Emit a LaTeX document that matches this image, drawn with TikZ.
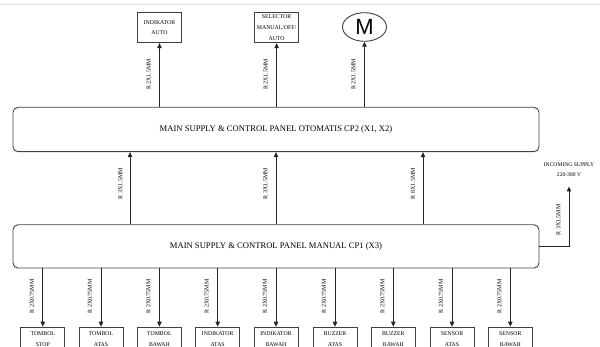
\documentclass[tikz,border=0pt]{standalone}
\usepackage{fontspec}
\setmainfont{Liberation Serif}
\newfontfamily\msans{Liberation Sans}
\usetikzlibrary{arrows.meta,shapes.geometric}
\begin{document}
\begin{tikzpicture}[x=1pt,y=-1pt,
  box/.style={draw=black!75,line width=0.9pt,minimum width=44pt,minimum height=30pt,inner sep=0pt,align=center,font=\fontsize{5.8}{10.7}\selectfont,text=black},
  lowbox/.style={draw=black!75,line width=0.9pt,minimum width=44pt,inner xsep=0pt,inner ysep=4.5pt,anchor=north,align=center,font=\fontsize{5.8}{11}\selectfont,text=black},
  panel/.style={draw=black!75,line width=0.9pt,rounded corners=5pt,minimum width=526pt,inner sep=0pt,font=\fontsize{8.6}{10}\selectfont,text=black},
  lab/.style={rotate=90,inner sep=0pt,font=\fontsize{6}{7}\selectfont,text=black},
  small/.style={inner sep=0pt,align=center,font=\fontsize{5.6}{10}\selectfont,text=black},
  arr/.style={draw=black!85,line width=0.9pt,-{Triangle[width=4.5pt,length=5pt]}}
]
\path[use as bounding box] (0,0) rectangle (600,347);
\clip (0,0) rectangle (600,347);
\draw[black!12,line width=1pt] (0,5) -- (600,5);

% top devices
\node[box] (ia) at (159.5,27.7) {INDIKATOR\\AUTO};
\node[box] (sel) at (276.6,27.7) {SELECTOR\\MANUAL/OFF/\\AUTO};
\node[draw=black!75,line width=0.9pt,ellipse,minimum width=44pt,minimum height=28.6pt,inner sep=0pt,font=\msans\fontsize{22}{22}\selectfont] (m) at (364.5,27) {M};

% panels
\node[panel,minimum height=44.4pt] (cp2) at (276,129.5) {MAIN SUPPLY \& CONTROL PANEL OTOMATIS CP2 (X1, X2)};
\node[panel,minimum height=43.3pt] (cp1) at (276,246.4) {MAIN SUPPLY \& CONTROL PANEL MANUAL CP1 (X3)};

% cp2 -> top devices
\draw[arr] (ia.south |- cp2.north) -- (ia.south);
\draw[arr] (sel.south |- cp2.north) -- (sel.south);
\draw[arr] (m.south |- cp2.north) -- (m.south);
\node[lab] (l1) at (148.7,74.5) {R 2X1.5MM};
\node[lab] (l2) at (265.7,74.5) {R 2X1.5MM};
\node[lab] (l3) at (353.5,74.5) {R 2X1.5MM};

% cp1 -> cp2
\coordinate (m1) at (130,0);
\coordinate (m2) at (276,0);
\coordinate (m3) at (423,0);
\draw[arr] (m1 |- cp1.north) -- (m1 |- cp2.south);
\draw[arr] (m2 |- cp1.north) -- (m2 |- cp2.south);
\draw[arr] (m3 |- cp1.north) -- (m3 |- cp2.south);
\node[lab] (l4) at (120.5,183.5) {R 3X1.5MM};
\node[lab] (l5) at (265.5,183.5) {R 3X1.5MM};
\node[lab] (l6) at (413,183.5) {R 8X1.5MM};

% incoming supply
\node[small] (inc) at (569,170) {INCOMING SUPPLY\\220-380 V};
\coordinate (incT) at (569,186.5);
\draw[arr] (cp1.east) -| (incT);
\node[lab] (l7) at (558.5,220) {R 3X1.5MM};

% bottom devices
\foreach \x/\n/\t in {42.8/b1/{TOMBOL\\STOP},101/b2/{TOMBOL\\ATAS},159.4/b3/{TOMBOL\\BAWAH},217.7/b4/{INDIKATOR\\ATAS},276/b5/{INDIKATOR\\BAWAH},335/b6/{BUZZER\\ATAS},393.3/b7/{BUZZER\\BAWAH},452/b8/{SENSOR\\ATAS},510.3/b9/{SENSOR\\BAWAH}}{
  \node[lowbox] (\n) at (\x,326.7) {\t};
  \draw[arr] (\n.north |- cp1.south) -- (\n.north);
  \node[lab] (lab\n) at (\x-11,296.5) {R 2X0.75MM};
}
\end{tikzpicture}
\end{document}
